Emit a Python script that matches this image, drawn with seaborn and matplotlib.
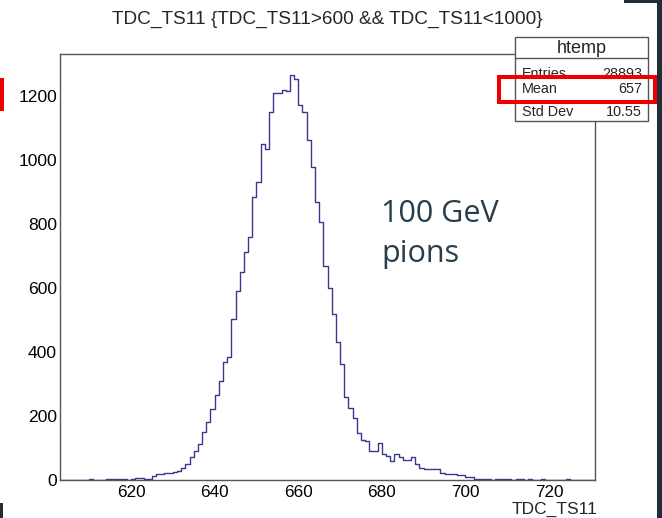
import numpy as np
import pandas as pd
import matplotlib
matplotlib.use("Agg")
import matplotlib.pyplot as plt
import seaborn as sns
from matplotlib.patches import Rectangle
from matplotlib.ticker import MultipleLocator

# ---------------- data (counts per 1-unit bin, first bin starts at 603) ----------------
first_bin = 603
left_tail = [0, 0, 0, 0, 0, 0, 1, 2, 0, 0, 1, 2, 3, 2, 3, 2, 1, 3, 7, 5, 2, 3]          # 603-624
rise = [12, 18, 19, 22, 23, 25, 28, 38, 50, 72, 91, 111, 149, 180, 221, 265,
        309, 370, 385, 502, 590, 650]                                                  # 625-646
peak = [713, 758, 885, 930, 1049, 1034, 1149, 1210, 1208, 1219, 1214, 1266, 1252,
        1172, 1149, 1063, 979, 870, 805]                                               # 647-665
fall = [670, 600, 519, 432, 362, 258, 224, 193, 146, 125, 122, 92, 90, 115, 80,
        76, 60, 81, 73, 63, 62, 73, 50, 36, 34, 34, 35, 35, 23, 19, 19, 19, 16, 16,
        10, 10, 3]                                                                     # 666-702
right_tail = [4, 3, 2, 1, 3, 4, 2, 3, 1, 4, 2, 1, 3, 1, 0, 2, 0, 1, 0, 0, 1, 2,
              0, 1, 0, 0, 0, 0]                                                        # 703-730
counts = np.array(left_tail + rise + peak + fall + right_tail, dtype=float)
n_bins = len(counts)
centers = first_bin + np.arange(n_bins) + 0.5

x_ticks = [620, 640, 660, 680, 700, 720]
y_ticks = [0, 200, 400, 600, 800, 1000, 1200]

title = "TDC_TS11 {TDC_TS11>600 && TDC_TS11<1000}"
xlabel = "TDC_TS11"
stats_name = "htemp"
stats_rows = [("Entries", "28893"), ("Mean", "657"), ("Std Dev", "10.55")]
note_lines = ["100 GeV", "pions"]

# ---------------- figure ----------------
sns.set_style("white")
plt.rcParams["font.family"] = ["Liberation Sans", "DejaVu Sans"]

W, H = 662, 518
fig = plt.figure(figsize=(W / 100, H / 100), dpi=100)
fig.patch.set_facecolor("white")


def fx(px):
    return px / W


def fy(py):
    return 1 - py / H


ax = fig.add_axes([fx(60), fy(480), fx(595) - fx(60), fy(54) - fy(480)])
df = pd.DataFrame({"x": centers, "w": counts})
sns.histplot(data=df, x="x", weights="w", binwidth=1,
             binrange=(first_bin, first_bin + n_bins), element="step", fill=False,
             color="#38388f", linewidth=1.0, ax=ax)

ax.set_xlim(603, 731)
ax.set_ylim(0, 1331)
ax.set_xlabel("")
ax.set_ylabel("")
ax.set_xticks(x_ticks)
ax.set_yticks(y_ticks)
ax.xaxis.set_minor_locator(MultipleLocator(5))
ax.yaxis.set_minor_locator(MultipleLocator(50))
ax.tick_params(axis="both", which="both", direction="in", top=False, right=False,
               color="#666666", width=0.8, labelcolor="black")
ax.tick_params(axis="x", which="major", length=9.4, pad=3.5, labelsize=12.3)
ax.tick_params(axis="x", which="minor", length=4.5)
ax.tick_params(axis="y", which="major", length=11.5, pad=2.2, labelsize=12.6)
ax.tick_params(axis="y", which="minor", length=5.8)
for sp in ax.spines.values():
    sp.set_color("#555555")
    sp.set_linewidth(1.0)

# title and axis label
fig.text(fx(327), fy(24), title, ha="center", va="baseline", fontsize=13.7)
fig.text(fx(597), fy(514), xlabel, ha="right", va="baseline", fontsize=12.5)

# stats box
bx0, bx1, by0, by1, bsep = 515, 648, 36.7, 121, 58.3
fig.add_artist(Rectangle((fx(bx0), fy(by1)), fx(bx1) - fx(bx0), fy(by0) - fy(by1),
                         transform=fig.transFigure, facecolor="white",
                         edgecolor="#555555", linewidth=1.0, zorder=5))
fig.add_artist(plt.Line2D([fx(bx0), fx(bx1)], [fy(bsep), fy(bsep)],
                          transform=fig.transFigure, color="#555555", lw=1.0, zorder=6))
fig.text(fx((bx0 + bx1) / 2), fy(53), stats_name, ha="center", va="baseline",
         fontsize=13, zorder=7)
row_base = [77.5, 93.3, 115.7]
for (lab, val), yb in zip(stats_rows, row_base):
    fig.text(fx(521.5), fy(yb), lab, ha="left", va="baseline", fontsize=10.4, zorder=7)
    fig.text(fx(642), fy(yb), val, ha="right", va="baseline", fontsize=10.4, zorder=7)

# red highlight rectangle around the Mean row
fig.add_artist(Rectangle((fx(498.7), fy(102.3)), fx(654.7) - fx(498.7), fy(77) - fy(102.3),
                         transform=fig.transFigure, facecolor="none",
                         edgecolor="#ee0000", linewidth=2.9, zorder=9))
# red mark at left edge
fig.add_artist(Rectangle((0, fy(111)), fx(3.5), fy(78) - fy(111), transform=fig.transFigure,
                         facecolor="#ee0000", edgecolor="none", zorder=9))

# dark slide edges
dark = "#1f2e39"
fig.add_artist(Rectangle((fx(657.3), 0), 1 - fx(657.3), 1, transform=fig.transFigure,
                         facecolor=dark, edgecolor="none", zorder=9))
fig.add_artist(Rectangle((fx(624), fy(3)), 1 - fx(624), fy(0) - fy(3), transform=fig.transFigure,
                         facecolor=dark, edgecolor="none", zorder=9))
fig.add_artist(Rectangle((0, 0), fx(3), fy(503), transform=fig.transFigure,
                         facecolor=dark, edgecolor="none", zorder=9))

# annotation
note_base = [222, 262]
for line, yb in zip(note_lines, note_base):
    fig.text(fx(381.5), fy(yb), line, ha="left", va="baseline", fontsize=22,
             family=["Open Sans", "DejaVu Sans"], color="#263d4b")

fig.savefig("out.png", dpi=100)
